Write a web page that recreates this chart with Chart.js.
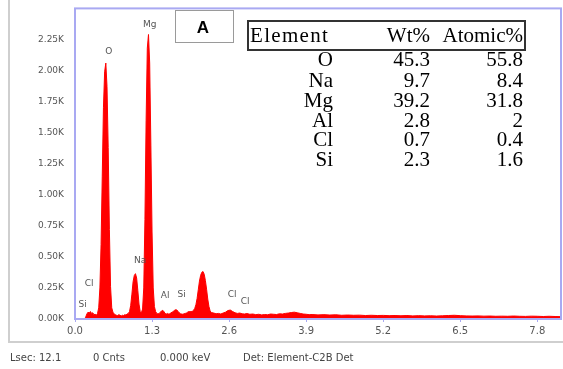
<!DOCTYPE html>
<html>
<head>
<meta charset="utf-8">
<script src="https://cdn.jsdelivr.net/npm/chart.js@4.4.0/dist/chart.umd.min.js"></script>
<style>
  html, body { margin: 0; padding: 0; background: #fff; }
  canvas { display: block; }
</style>
</head>
<body>
<canvas id="eds" width="563" height="369"></canvas>
<script>
// Spectrum (keV, counts)
const energyKeV = [
  0.00, 0.16, 0.18, 0.20, 0.22, 0.24, 0.26, 0.28, 0.30, 0.32, 0.34, 0.36, 0.38, 0.40,
  0.42, 0.44, 0.46, 0.48, 0.50, 0.52, 0.54, 0.56, 0.58, 0.60, 0.62, 0.64, 0.66, 0.68,
  0.70, 0.72, 0.74, 0.76, 0.78, 0.80, 0.82, 0.84, 0.86, 0.88, 0.90, 0.92, 0.94, 0.96,
  0.98, 1.00, 1.02, 1.04, 1.06, 1.08, 1.10, 1.12, 1.14, 1.16, 1.18, 1.20, 1.22, 1.24,
  1.26, 1.28, 1.30, 1.32, 1.34, 1.36, 1.38, 1.40, 1.42, 1.44, 1.46, 1.48, 1.50, 1.52,
  1.54, 1.56, 1.58, 1.60, 1.62, 1.64, 1.66, 1.68, 1.70, 1.72, 1.74, 1.76, 1.78, 1.80,
  1.82, 1.84, 1.86, 1.88, 1.90, 1.92, 1.94, 1.96, 1.98, 2.00, 2.02, 2.04, 2.06, 2.08,
  2.10, 2.12, 2.14, 2.16, 2.18, 2.20, 2.22, 2.24, 2.26, 2.28, 2.30, 2.34, 2.38, 2.42,
  2.46, 2.50, 2.54, 2.58, 2.62, 2.66, 2.70, 2.74, 2.78, 2.82, 2.86, 2.90, 2.95, 3.00,
  3.05, 3.10, 3.15, 3.20, 3.25, 3.30, 3.35, 3.40, 3.45, 3.50, 3.55, 3.60, 3.65, 3.70,
  3.75, 3.80, 3.85, 3.90, 3.95, 4.00, 4.10, 4.20, 4.30, 4.40, 4.50, 4.60, 4.70, 4.80,
  4.90, 5.00, 5.10, 5.20, 5.30, 5.40, 5.50, 5.60, 5.70, 5.80, 5.90, 6.00, 6.10, 6.20,
  6.30, 6.40, 6.50, 6.60, 6.70, 6.80, 6.90, 7.00, 7.10, 7.20, 7.30, 7.40, 7.50, 7.60,
  7.70, 7.80, 7.90, 8.00, 8.10, 8.20
];
const counts = [
  0, 0, 15, 40, 55, 48, 60, 45, 50, 35, 38, 30, 45, 90,
  250, 600, 1150, 1700, 1990, 2060, 1870, 1380, 720, 260, 90, 55, 40, 35,
  30, 28, 35, 30, 25, 30, 28, 35, 32, 40, 45, 60, 110, 200,
  300, 350, 365, 330, 230, 120, 60, 50, 80, 250, 800, 1600, 2180, 2290,
  2060, 1400, 700, 250, 100, 60, 45, 40, 45, 55, 65, 70, 60, 45,
  40, 45, 40, 42, 50, 55, 62, 70, 75, 72, 60, 50, 42, 40,
  38, 42, 45, 48, 55, 60, 58, 60, 62, 70, 85, 115, 165, 235,
  305, 352, 376, 382, 360, 310, 240, 160, 100, 65, 52, 48, 42, 45,
  40, 48, 55, 68, 72, 60, 50, 45, 48, 42, 40, 44, 38, 40,
  35, 38, 33, 36, 34, 40, 38, 36, 42, 40, 45, 48, 52, 55,
  50, 45, 40, 38, 35, 36, 33, 35, 32, 34, 30, 32, 30, 31,
  28, 30, 28, 29, 27, 28, 26, 28, 25, 27, 25, 26, 24, 26,
  28, 30, 27, 25, 24, 25, 23, 24, 22, 23, 22, 24, 22, 21,
  23, 22, 20, 22, 20, 19
];

const xTicks = [0.0, 1.3, 2.6, 3.9, 5.2, 6.5, 7.8];

// peak markers: label, keV, counts
const peakNames = ["Mg", "O", "Na", "Cl", "Si", "Al", "Si", "Cl", "Cl"];
const peakKeV = [1.26, 0.57, 1.10, 0.24, 0.13, 1.52, 1.80, 2.65, 2.87];
const peakCounts = [2372, 2155, 473, 288, 112, 184, 192, 192, 136];

// inset table
const tableHead = ["Element", "Wt%", "Atomic%"];
const elements = ["O", "Na", "Mg", "Al", "Cl", "Si"];
const wtPct = ["45.3", "9.7", "39.2", "2.8", "0.7", "2.3"];
const atomicPct = ["55.8", "8.4", "31.8", "2", "0.4", "1.6"];

const statusBar = ["Lsec: 12.1", "0 Cnts", "0.000 keV", "Det: Element-C2B Det"];

const SANS = "'DejaVu Sans', sans-serif";
const SERIF = "21px \"Liberation Serif\", \"Times New Roman\", serif";
const BORDER = "#a9a9f2";

const decor = {
  id: "decor",
  beforeDraw(chart) {
    const ctx = chart.ctx;
    ctx.save();
    ctx.fillStyle = "#fff";
    ctx.fillRect(0, 0, chart.width, chart.height);
    // outer gray frame
    ctx.strokeStyle = "#cfcfcf";
    ctx.lineWidth = 2;
    ctx.beginPath();
    ctx.moveTo(9, 0);
    ctx.lineTo(9, 342);
    ctx.lineTo(563, 342);
    ctx.stroke();
    ctx.restore();
  },
  afterDatasetsDraw(chart) {
    const ctx = chart.ctx;
    const a = chart.chartArea;
    const xs = chart.scales.x, ys = chart.scales.y;
    ctx.save();
    ctx.strokeStyle = BORDER;
    ctx.lineWidth = 2;
    ctx.strokeRect(a.left, a.top, a.right - a.left, a.bottom - a.top);

    // peak labels
    ctx.fillStyle = "#555";
    ctx.font = "9px " + SANS;
    ctx.textAlign = "center";
    ctx.textBaseline = "middle";
    peakNames.forEach((n, i) => {
      ctx.fillText(n, xs.getPixelForValue(peakKeV[i]), ys.getPixelForValue(peakCounts[i]));
    });

    // "A" panel box
    ctx.fillStyle = "#fff";
    ctx.fillRect(175, 10, 58, 32);
    ctx.strokeStyle = "#9a9a9a";
    ctx.lineWidth = 1;
    ctx.strokeRect(175.5, 10.5, 58, 32);
    ctx.fillStyle = "#000";
    ctx.font = "bold 17px 'Liberation Sans', Arial, sans-serif";
    ctx.fillText("A", 203, 28);

    // table
    ctx.strokeStyle = "#333";
    ctx.lineWidth = 2;
    ctx.strokeRect(248, 21, 277, 29);
    ctx.font = SERIF;
    ctx.textBaseline = "middle";
    ctx.textAlign = "left";
    ctx.letterSpacing = "1.3px";
    ctx.fillText(tableHead[0], 250, 36);
    ctx.letterSpacing = "0px";
    ctx.textAlign = "right";
    ctx.fillText(tableHead[1], 430, 36);
    ctx.fillText(tableHead[2], 523, 36);
    const rowY = [60, 81, 101, 121, 140, 160];
    elements.forEach((el, i) => {
      ctx.fillText(el, 333, rowY[i]);
      ctx.fillText(wtPct[i], 430, rowY[i]);
      ctx.fillText(atomicPct[i], 523, rowY[i]);
    });

    // status bar
    ctx.fillStyle = "#444";
    ctx.font = "10px " + SANS;
    ctx.textAlign = "left";
    const sx = [10, 93, 160, 243];
    statusBar.forEach((t, i) => ctx.fillText(t, sx[i], 358));
    ctx.restore();
  }
};

new Chart(document.getElementById("eds"), {
  type: "line",
  data: {
    datasets: [{
      data: energyKeV.map((e, i) => ({ x: e, y: counts[i] })),
      borderColor: "#ff0000",
      backgroundColor: "#ff0000",
      borderWidth: 1,
      pointRadius: 0,
      tension: 0,
      fill: "origin",
    }],
  },
  options: {
    responsive: false,
    animation: false,
    devicePixelRatio: 1,
    layout: { padding: { left: 0, top: 7, right: 2, bottom: 0 } },
    plugins: { legend: { display: false }, tooltip: { enabled: false } },
    scales: {
      x: {
        type: "linear",
        min: 0,
        max: 8.2,
        afterFit: (s) => { s.height = 50; },
        afterBuildTicks: (s) => { s.ticks = xTicks.map((v) => ({ value: v })); },
        grid: { drawOnChartArea: false, drawTicks: true, tickLength: 3, color: BORDER },
        border: { display: false },
        ticks: {
          color: "#555",
          font: { family: SANS, size: 10 },
          padding: 3,
          maxRotation: 0,
          callback: (v) => v.toFixed(1),
        },
      },
      y: {
        min: 0,
        max: 2500,
        afterFit: (s) => { s.width = 75; },
        grid: { display: false },
        border: { display: false },
        ticks: {
          stepSize: 250,
          color: "#555",
          font: { family: SANS, size: 9 },
          padding: 3,
          callback: (v) => (v >= 2500 ? "" : (v / 1000).toFixed(2) + "K"),
        },
      },
    },
  },
  plugins: [decor],
});
</script>
</body>
</html>
